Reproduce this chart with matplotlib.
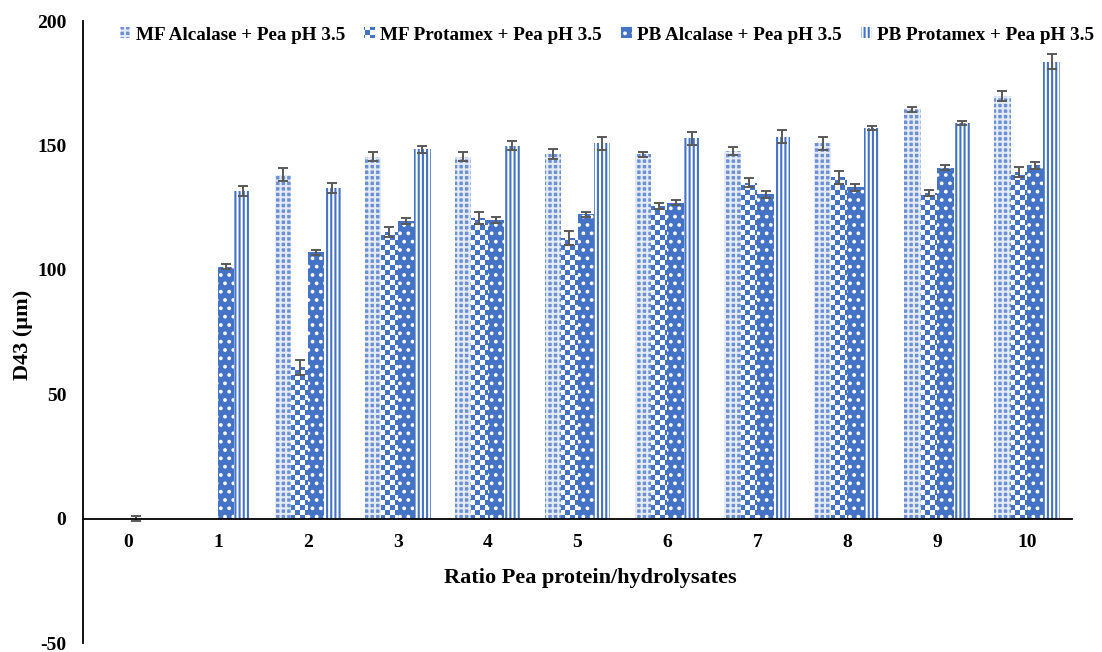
import numpy as np
import matplotlib
matplotlib.use("Agg")
import matplotlib.pyplot as plt
from matplotlib import hatch as mhatch
from matplotlib.path import Path

# ---- data -------------------------------------------------------------
ratios = ["0", "1", "2", "3", "4", "5", "6", "7", "8", "9", "10"]
series_names = [
    "MF Alcalase + Pea pH 3.5",
    "MF Protamex + Pea pH 3.5",
    "PB Alcalase + Pea pH 3.5",
    "PB Protamex + Pea pH 3.5",
]
nan = np.nan
mf_alcalase = [nan, nan, 138.3, 145.4, 145.4, 146.4, 146.5, 147.7, 150.8, 164.5, 170.0]
mf_protamex = [nan, nan, 60.8, 115.3, 120.9, 112.9, 125.7, 135.0, 137.1, 131.0, 139.5]
pb_alcalase = [0.0, 101.2, 107.0, 119.6, 120.2, 122.4, 126.9, 130.3, 133.1, 141.0, 142.0]
pb_protamex = [nan, 131.6, 133.0, 148.4, 149.8, 150.8, 152.8, 153.5, 157.1, 159.0, 183.6]

mf_alcalase_err = [nan, nan, 2.5, 1.8, 1.8, 2.0, 1.0, 1.5, 2.5, 1.0, 2.0]
mf_protamex_err = [nan, nan, 3.0, 2.0, 2.3, 2.8, 1.3, 1.8, 2.6, 1.2, 2.0]
pb_alcalase_err = [1.0, 1.0, 1.0, 1.2, 1.2, 1.0, 1.0, 1.3, 1.3, 1.0, 1.3]
pb_protamex_err = [nan, 2.0, 2.0, 1.5, 1.8, 2.5, 2.5, 2.5, 0.8, 0.7, 3.0]

values = [mf_alcalase, mf_protamex, pb_alcalase, pb_protamex]
errors = [mf_alcalase_err, mf_protamex_err, pb_alcalase_err, pb_protamex_err]

# ---- checkerboard hatch (takes the place of the 'O' pattern) ----------
HATCH_LW = 1.5
plt.rcParams["hatch.linewidth"] = HATCH_LW


class CheckerHatch(mhatch.HatchPatternBase):
    cells = 20

    def __init__(self, hatch, density):
        self.on = hatch.count("O") > 0
        n = self.cells
        self.num_vertices = (n * n // 2) * 5 if self.on else 0

    def set_vertices_and_codes(self, vertices, codes):
        n = self.cells
        s = 1.0 / n
        inset = HATCH_LW * 100 / 72 / 2 / 100.0
        k = 0
        for i in range(n):
            for j in range(n):
                if (i + j) % 2 == 0:
                    x0, y0 = i * s + inset, j * s + inset
                    x1, y1 = (i + 1) * s - inset, (j + 1) * s - inset
                    vertices[k:k + 5] = [(x0, y0), (x1, y0), (x1, y1), (x0, y1), (x0, y0)]
                    codes[k:k + 5] = [Path.MOVETO, Path.LINETO, Path.LINETO,
                                      Path.LINETO, Path.CLOSEPOLY]
                    k += 5


mhatch._hatch_types = [h for h in mhatch._hatch_types
                       if h is not mhatch.LargeCircles] + [CheckerHatch]

# ---- styling ----------------------------------------------------------
plt.rcParams["font.family"] = ["Liberation Serif", "DejaVu Serif"]
plt.rcParams["font.weight"] = "bold"
plt.rcParams["axes.unicode_minus"] = False

BLUE = "#4472C4"
styles = [
    dict(facecolor="#6D90D5", edgecolor="#E4EBF8", hatch="+++"),
    dict(facecolor="white", edgecolor=BLUE, hatch="O"),
    dict(facecolor=BLUE, edgecolor="white", hatch=".."),
    dict(facecolor="white", edgecolor=BLUE, hatch="||||"),
]

fig = plt.figure(figsize=(11.02, 6.52), dpi=100)
ax = fig.add_axes([83 / 1102, 9 / 652, (1072 - 83) / 1102, (643 - 21) / 652])

x = np.arange(len(ratios))
w = 0.183
offsets = [-1.5 * w, -0.5 * w, 0.5 * w, 1.5 * w]

for name, vals, errs, off, st in zip(series_names, values, errors, offsets, styles):
    ax.bar(x + off, vals, width=w, linewidth=0, label=name, **st)
    ax.errorbar(x + off, vals, yerr=errs, fmt="none", ecolor="#595959",
                elinewidth=1.4, capsize=3.8, capthick=1.4)

ax.set_xlim(-0.5, 10.5)
ax.set_ylim(-50, 200)
ax.set_yticks([-50, 0, 50, 100, 150, 200])
ax.set_xticks(x)
ax.set_xticklabels(ratios)

for s in ("top", "right"):
    ax.spines[s].set_visible(False)
ax.spines["bottom"].set_position(("data", 0))
ax.spines["bottom"].set_linewidth(1.3)
ax.spines["left"].set_linewidth(1.3)
ax.tick_params(axis="both", length=0, labelsize=14)
ax.tick_params(axis="x", pad=11)
ax.tick_params(axis="y", pad=12)

fig.text(590 / 1102, 1 - 578 / 652, "Ratio Pea protein/hydrolysates",
         ha="center", va="center", fontsize=16, fontweight="bold")
fig.text(23 / 1102, 1 - 335 / 652, "D43 (µm)", rotation=90,
         ha="center", va="center", fontsize=16, fontweight="bold")

fig.legend(loc="center", bbox_to_anchor=(607 / 1102, 1 - 35 / 652), ncol=4,
           frameon=False, fontsize=13.8, handlelength=0.55, handleheight=0.55,
           handletextpad=0.28, columnspacing=1.0)

fig.savefig("out.png", dpi=100)
